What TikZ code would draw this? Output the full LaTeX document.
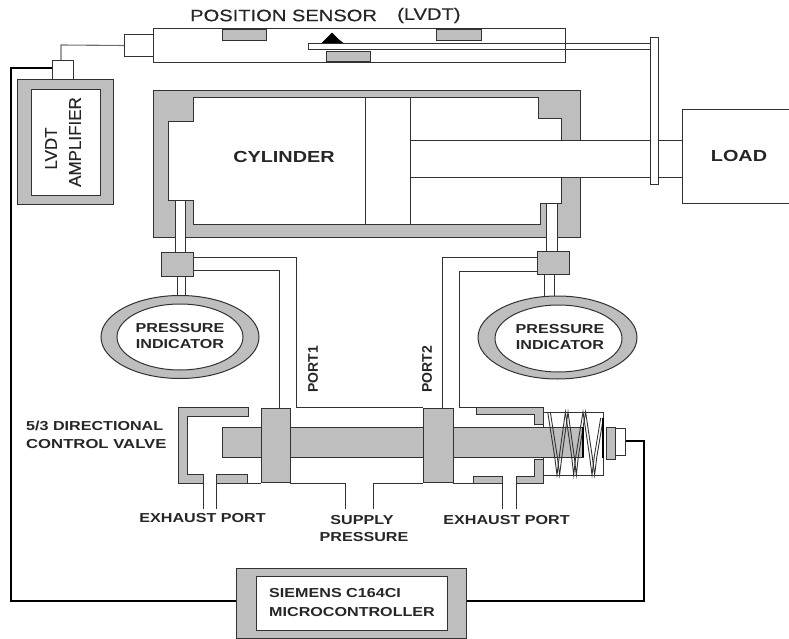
\documentclass[tikz,border=0pt]{standalone}
\usepackage{fontspec}
\setmainfont{Liberation Sans}
\newfontfamily\wideb[FakeStretch=1.24]{Liberation Sans Bold}
\newfontfamily\widem[FakeStretch=1.22,FakeBold=0.35]{Liberation Sans}
\newfontfamily\tallm[FakeBold=0.25]{Liberation Sans}
\definecolor{metal}{RGB}{190,190,190}
\definecolor{ink}{RGB}{50,50,50}
\tikzset{
  x=1pt,y=-1pt,
  part/.style={draw=ink,line width=1pt,line join=miter},
  metalpart/.style={part,fill=metal},
  whitepart/.style={part,fill=white},
  thin wire/.style={draw=ink!70,line width=1.1pt},
  signal/.style={draw=black,line width=1.7pt,line join=miter},
  plain/.style={draw=ink,line width=1pt},
  springline/.style={draw=ink,line width=.9pt,line join=miter},
  lab/.style={inner sep=0pt,font=\wideb\fontsize{13}{15}\selectfont,text=black!85},
  portlab/.style={inner sep=0pt,font=\bfseries\fontsize{14}{15}\selectfont,text=black!85},
  biglab/.style={inner sep=0pt,font=\widem\fontsize{16.5}{18}\selectfont,text=black!85},
  amplab/.style={inner sep=0pt,font=\tallm\fontsize{17}{18}\selectfont,text=black!85},
  midlab/.style={inner sep=0pt,font=\wideb\fontsize{16}{18}\selectfont,text=black!85},
  pressurelab/.style={inner sep=0pt,align=center,font=\wideb\fontsize{13}{15.5}\selectfont,text=black!85},
}
\begin{document}
\begin{tikzpicture}
\useasboundingbox (0,0) rectangle (789,639);
\fill[white] (0,0) rectangle (789,639);

% LVDT sensor
\path[whitepart] (153,29) rectangle (565,63);
\path[metalpart] (222,30) rectangle (266,41);
\path[metalpart] (436,30) rectangle (481,41);
\path[metalpart] (326,52) rectangle (370,62);
\path[whitepart] (308,43.5) rectangle (650,50);
\path[draw=black,fill=black] (322,43) -- (326,39) -- (332,33) -- (338,39) -- (343,43) -- cycle;
\draw[plain] (565,29) -- (565,63);
\node[whitepart,minimum width=29pt,minimum height=22pt,inner sep=0pt,anchor=north west] (conn) at (124,34) {};
\node[whitepart,minimum width=21pt,minimum height=19pt,inner sep=0pt,anchor=north west] (nub) at (52,60) {};

% amplifier
\node[metalpart,minimum width=96pt,minimum height=125pt,inner sep=0pt,anchor=north west] (amp) at (17,79) {};
\node[whitepart,minimum width=69pt,minimum height=106pt,inner sep=0pt,anchor=north west] (ampin) at (31,89) {};
\node[amplab,rotate=90] (t1) at (51,148.5) {LVDT};
\node[amplab,rotate=90] (t2) at (75,142) {AMPLIFIER};

% cylinder
\path[metalpart] (153,91) rectangle (580,237);
\path[whitepart] (193,98) -- (538,98) -- (538,119) -- (561,119) -- (561,203) -- (540,203) -- (540,224)
  -- (193,224) -- (193,200) -- (168,200) -- (168,122) -- (193,122) -- cycle;
\fill[white] (366,99) rectangle (409,223);
\fill[white] (410,141) rectangle (682,178);
\draw[plain] (365,98) -- (365,224);
\draw[plain] (410,98) -- (410,224);
\draw[plain] (410,141) -- (682,141);
\draw[plain] (410,178) -- (682,178);
\node[whitepart,minimum width=8pt,minimum height=147pt,inner sep=0pt,anchor=north west] (flange) at (650,37) {};
\draw[plain] (682,203) -- (682,110) -- (789,110);
\draw[plain] (682,203) -- (789,203);
\node[midlab] (cyl) at (284,157) {CYLINDER};
\node[midlab] (load) at (739,156) {LOAD};

% left port tube, block, gauge
\path[whitepart] (175,200) rectangle (185,252);
\path[whitepart] (177,276) rectangle (185,296);
\node[metalpart,minimum width=32pt,minimum height=24pt,inner sep=0pt,anchor=north west] (blockL) at (161,252) {};
\path[metalpart] (180,337) ellipse [x radius=79pt,y radius=41.5pt];
\path[whitepart] (180,337) ellipse [x radius=63pt,y radius=33pt];
\node[pressurelab] (gaugeL) at (180,336) {PRESSURE\\INDICATOR};

% right port tube, block, gauge
\path[whitepart] (546,203) rectangle (557,251);
\path[whitepart] (544,274) rectangle (554,296);
\node[metalpart,minimum width=32pt,minimum height=23pt,inner sep=0pt,anchor=north west] (blockR) at (537,251) {};
\path[metalpart] (557.5,337.5) ellipse [x radius=79.5pt,y radius=41.5pt];
\path[whitepart] (558.5,338.5) ellipse [x radius=63.5pt,y radius=33.5pt];
\node[pressurelab] (gaugeR) at (560,337) {PRESSURE\\INDICATOR};

% port pipes
\draw[plain] (193,270) -- (279,270) -- (279,408);
\draw[plain] (193,257) -- (296,257) -- (296,407) -- (423,407);
\draw[plain] (537,257) -- (442,257) -- (442,408);
\draw[plain] (537,271) -- (459,271) -- (459,407) -- (543,407);
\node[portlab,rotate=90] (p1) at (313,369.5) {PORT1};
\node[portlab,rotate=90] (p2) at (427,369.5) {PORT2};

% valve body
\path[metalpart] (178,407) -- (248,407) -- (248,416) -- (187,416) -- (187,474) -- (203,474) -- (203,483) -- (178,483) -- cycle;
\path[metalpart] (216,474) -- (247,474) -- (247,483) -- (216,483) -- cycle;
\draw[plain] (203,483) -- (203,509);
\draw[plain] (216,483) -- (216,509);
\draw[plain] (247,483) -- (261,483);
\draw[plain] (290,483) -- (345,483) -- (345,509);
\draw[plain] (373,509) -- (373,483) -- (423,483);
\draw[plain] (453,483) -- (473,483);
\path[metalpart] (476,407) -- (543,407) -- (543,424) -- (534,424) -- (534,414) -- (476,414) -- cycle;
\path[metalpart] (534,459) -- (543,459) -- (543,483) -- (516,483) -- (516,476) -- (534,476) -- cycle;
\path[metalpart] (473,476) -- (502,476) -- (502,483) -- (473,483) -- cycle;
\draw[plain] (502,483) -- (502,509);
\draw[plain] (516,483) -- (516,509);

% solenoid
\path[whitepart] (543,412) rectangle (603,475);
% spool
\path[metalpart] (222,427) rectangle (583,457);
\path[metalpart] (261,408) rectangle (290,482);
\path[metalpart] (423,408) rectangle (453,482);
% spring (two strands)
\foreach \d in {-1.3,1.3}
  \draw[springline] (549+\d,412) -- (556+\d,457) -- (558.3+\d,475) -- (560.5+\d,457) -- (566.7+\d,412)
    -- (573+\d,457) -- (575+\d,475) -- (577+\d,457) -- (584.3+\d,412)
    -- (591+\d,457) -- (593.3+\d,475) -- (595.5+\d,457) -- (602+\d,418);
\draw[black,line width=1.6pt] (583,427) -- (583,457);
\draw[black,line width=2.4pt] (603,418) -- (603,458);
\node[metalpart,minimum width=9pt,minimum height=32pt,inner sep=0pt,anchor=north west] (plunger) at (606,427) {};
\node[whitepart,minimum width=10pt,minimum height=27pt,inner sep=0pt,anchor=north west] (term) at (615,428) {};

% microcontroller
\node[metalpart,minimum width=230pt,minimum height=70pt,inner sep=0pt,anchor=north west] (mcu) at (236,568) {};
\node[whitepart,minimum width=191pt,minimum height=54pt,inner sep=0pt,anchor=north west] (mcuin) at (256,576) {};
\node[lab,anchor=west] (m1) at (269,593) {SIEMENS C164CI};
\node[lab,anchor=west] (m2) at (269,612) {MICROCONTROLLER};

% wiring
\coordinate (c1) at (61,45);
\coordinate (nubT) at (61,60);
\coordinate (nubL) at (52,68);
\coordinate (c2) at (11,68);
\coordinate (c3) at (11,601);
\coordinate (c4) at (644,601);
\coordinate (c5) at (644,441);
\draw[thin wire] (conn.west) -- (c1) -- (nubT);
\draw[signal] (nubL) -- (c2) -- (c3) -- (mcu.west |- c3);
\draw[signal] (mcu.east |- c4) -- (c4) -- (c5) -- (term.east |- c5);

% labels
\node[biglab,anchor=west] (s1) at (190,15.5) {POSITION SENSOR};
\node[biglab,anchor=west] (s2) at (397,15.5) {(LVDT)};
\node[lab,anchor=west] (v1) at (26,426) {5/3 DIRECTIONAL};
\node[lab,anchor=west] (v2) at (26,444) {\scalebox{1.035}[1]{CONTROL VALVE}};
\node[lab] (e1) at (202.5,518) {EXHAUST PORT};
\node[lab] (e2) at (506.5,520) {EXHAUST PORT};
\node[lab] (sp1) at (362,520) {SUPPLY};
\node[lab] (sp2) at (364,537) {PRESSURE};
\end{tikzpicture}
\end{document}
